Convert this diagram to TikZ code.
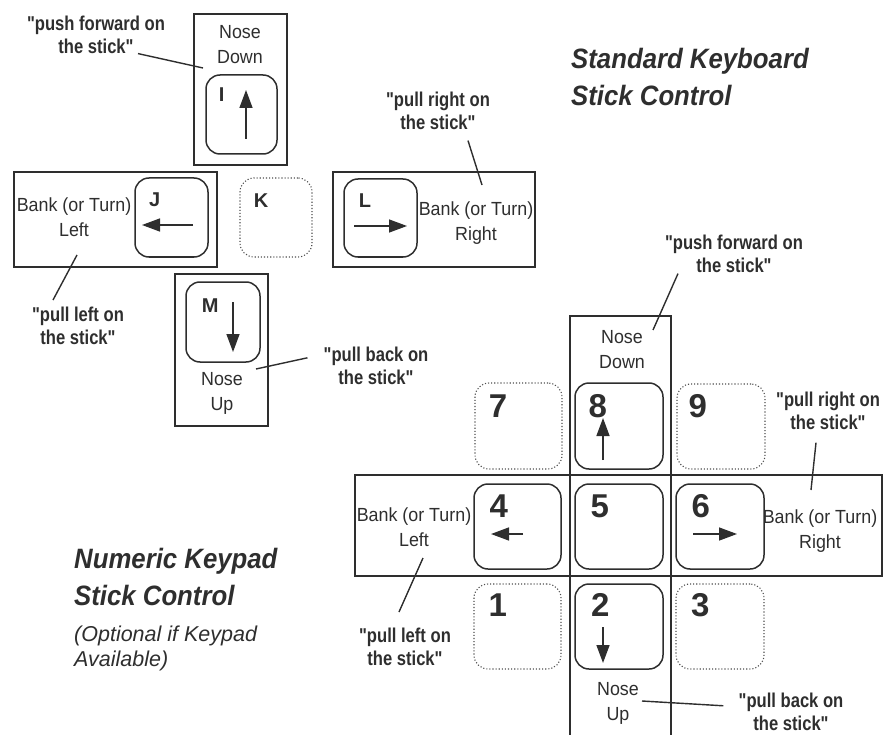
\documentclass[tikz,border=0pt]{standalone}
\usepackage{fontspec}
\setmainfont{Liberation Sans}
\newfontface\regf[FakeStretch=0.94]{Liberation Sans}
\newfontface\qf[FakeStretch=0.83]{Liberation Sans Bold}
\newfontface\kf{Liberation Sans Bold}
\newfontface\ttlf[FakeStretch=0.92]{Liberation Sans Bold Italic}
\newfontface\subf{Liberation Sans Italic}
\usetikzlibrary{fit,arrows.meta}
\definecolor{ink}{HTML}{2E2E2E}
\tikzset{
  boxb/.style={draw=ink, line width=1.9pt, inner sep=0pt},
  keyb/.style={draw=ink, line width=1.5pt, rounded corners=14pt, inner sep=0pt},
  dkeyb/.style={draw=ink!85, line width=1.1pt, dotted, rounded corners=14pt, inner sep=0pt},
  txt/.style={font={\fontsize{19}{25}\selectfont\regf}, align=center, inner sep=0pt, text=ink, anchor=north},
  qlab/.style={font={\fontsize{20}{22.5}\selectfont\qf}, align=center, inner sep=0pt, text=ink, anchor=north},
  klet/.style={font={\fontsize{20}{20}\selectfont\kf}, inner sep=0pt, text=ink, anchor=base west},
  knum/.style={font={\fontsize{33}{33}\selectfont\kf}, inner sep=0pt, text=ink, anchor=base west},
  ttl/.style={font={\fontsize{28}{37.5}\selectfont\ttlf}, align=left, inner sep=0pt, text=ink, anchor=north west},
  subt/.style={font={\fontsize{21.5}{25}\selectfont\subf}, align=left, inner sep=0pt, text=ink, anchor=north west},
  lead/.style={draw=ink, line width=1.4pt},
  arr/.style={draw=ink, line width=1.5pt, -{Triangle[length=18pt,width=13pt]}}
}
\begin{document}
\begin{tikzpicture}[x=1pt, y=-1pt]
\useasboundingbox (0,0) rectangle (888,735);

% ---------- Standard keyboard ----------
\node[boxb, fit={(194,14) (287,165)}] (bI) {};
\node[boxb, fit={(14,172) (217,267)}] (bJ) {};
\node[boxb, fit={(333,172) (535,267)}] (bL) {};
\node[boxb, fit={(175,274) (268,426)}] (bM) {};

\node[keyb, fit={(206,75) (277,154)}] (kI) {};
\node[keyb, fit={(135,178) (208,257)}] (kJ) {};
\node[dkeyb, fit={(240,178) (312,257)}] (kK) {};
\node[keyb, fit={(344,179) (417,257)}] (kL) {};
\node[keyb, fit={(186,282) (260,362)}] (kM) {};

\node[klet] (lI) at (218.6,102) {I};
\node[klet] (lJ) at (149,207) {J};
\node[klet] (lK) at (253.6,208) {K};
\node[klet] (lL) at (358.6,208) {L};
\node[klet] (lM) at (201.6,312) {M};

\draw[arr] (246,139) -- (246,90);
\draw[arr] (193,225) -- (142,225);
\draw[arr] (354,226) -- (407,226);
\draw[arr] (233,302) -- (233,352);

\node[txt] (tND1) at (240,25) {Nose\\Down};
\node[txt] (tBL1) at (74,198) {Bank (or Turn)\\Left};
\node[txt] (tBR1) at (476,202) {Bank (or Turn)\\Right};
\node[txt] (tNU1) at (222,372) {Nose\\Up};

\node[qlab] (qPF1) at (96,16) {"push forward on\\the stick"};
\node[qlab] (qPR1) at (438,92) {"pull right on\\the stick"};
\node[qlab] (qPB1) at (376,347) {"pull back on\\the stick"};
\node[qlab] (qPL1) at (78,307) {"pull left on\\the stick"};

\coordinate (ePF1) at (203,68);
\coordinate (ePR1) at (482,185);
\coordinate (ePB1) at (256,369);
\coordinate (ePL1) at (77,255);
\draw[lead] (qPF1.south) ++(42,0) -- (ePF1);
\draw[lead] (qPR1.south) ++(30,11) -- (ePR1);
\draw[lead] (qPB1.west) ++(-16,-8) -- (ePB1);
\draw[lead] (qPL1.north) ++(-25,-7) -- (ePL1);

\node[ttl] (ttlStd) at (571,48) {Standard Keyboard\\Stick Control};

% ---------- Numeric keypad ----------
\node[boxb, fit={(355,475) (882,576)}] (bH) {};
\draw[line width=1.9pt, draw=ink] (570,740) -- (570,316) -- (671,316) -- (671,740);

\node[dkeyb, fit={(475,383) (562,469)}] (k7) {};
\node[keyb, fit={(575,383) (663,469)}] (k8) {};
\node[dkeyb, fit={(677,384) (765,469)}] (k9) {};
\node[keyb, fit={(474,484) (561,569)}] (k4) {};
\node[keyb, fit={(575,484) (663,569)}] (k5) {};
\node[keyb, fit={(676,484) (764,569)}] (k6) {};
\node[dkeyb, fit={(474,584) (561,669)}] (k1) {};
\node[keyb, fit={(575,584) (663,669)}] (k2) {};
\node[dkeyb, fit={(676,584) (764,669)}] (k3) {};

\node[knum] (n7) at (488.7,417) {7};
\node[knum] (n8) at (588.5,417) {8};
\node[knum] (n9) at (688.5,417) {9};
\node[knum] (n4) at (489.5,517) {4};
\node[knum] (n5) at (590.5,517) {5};
\node[knum] (n6) at (691.5,517) {6};
\node[knum] (n1) at (488.5,616) {1};
\node[knum] (n2) at (591,616) {2};
\node[knum] (n3) at (691,616) {3};

\draw[arr] (603,460) -- (603,418);
\draw[arr] (523,534) -- (491,534);
\draw[arr] (693,534) -- (737,534);
\draw[arr] (603,627) -- (603,663);

\node[txt] (tND2) at (622,330) {Nose\\Down};
\node[txt] (tBL2) at (414,508) {Bank (or Turn)\\Left};
\node[txt] (tBR2) at (820,510) {Bank (or Turn)\\Right};
\node[txt] (tNU2) at (618,682) {Nose\\Up};

\node[qlab] (qPF2) at (734,235) {"push forward on\\the stick"};
\node[qlab] (qPR2) at (828,392) {"pull right on\\the stick"};
\node[qlab] (qPL2) at (405,628) {"pull left on\\the stick"};
\node[qlab] (qPB2) at (791,693) {"pull back on\\the stick"};

\coordinate (ePF2) at (653,330);
\coordinate (ePR2) at (811,490);
\coordinate (ePL2) at (423,558);
\coordinate (ePB2) at (642,701);
\draw[lead] (qPF2.south) ++(-56,1) -- (ePF2);
\draw[lead] (qPR2.south) ++(-12,13) -- (ePR2);
\draw[lead] (qPL2.north) ++(-6,-16) -- (ePL2);
\draw[lead] (qPB2.west) ++(-15,-6) -- (ePB2);

\node[ttl] (ttlNum) at (74,548) {Numeric Keypad\\Stick Control};
\node[subt] (subNum) at (74,626) {(Optional if Keypad\\Available)};
\end{tikzpicture}
\end{document}
